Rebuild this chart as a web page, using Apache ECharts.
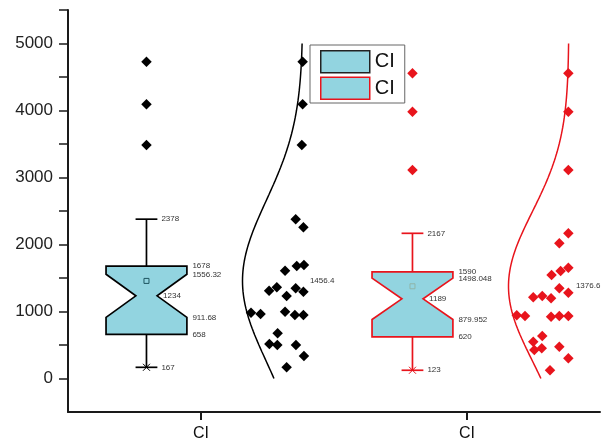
<!DOCTYPE html>
<html>
<head>
<meta charset="utf-8">
<script src="https://cdn.jsdelivr.net/npm/echarts@6/dist/echarts.min.js"></script>
<style>
  html, body { margin: 0; padding: 0; background: #fff; }
  #chart { width: 604px; height: 443px; }
</style>
</head>
<body>
<div id="chart"></div>
<script>
// ---- data ----
const categories = ['CI', 'CI'];
const yTickLabels = [0, 1000, 2000, 3000, 4000, 5000];

// box statistics: min, Q1, lower notch, median, upper notch, Q3, max (whisker ends)
const boxStatsA = [167, 658, 911.68, 1234, 1556.32, 1678, 2378];
const boxStatsB = [123, 620, 879.952, 1189, 1498.048, 1590, 2167];
const meanA = 1456.4;
const meanB = 1376.6;
const sdA = 1200;
const sdB = 1110;

// raw observations and their horizontal jitter within the dot column
const valuesA = [4728, 4093, 3485, 2378, 2257, 1694, 1679, 1609, 1346, 1296, 1361, 1310,
                 1231, 982, 963, 997, 948, 948, 675, 515, 500, 500, 336, 167];
const jitterA = [0.382, 0.382, 0.379, 0.356, 0.385, 0.387, 0.360, 0.316, 0.356, 0.385, 0.285, 0.256,
                 0.322, 0.188, 0.224, 0.316, 0.353, 0.385, 0.288, 0.257, 0.287, 0.357, 0.387, 0.322];
const valuesB = [4555, 3982, 3112, 2167, 2018, 1654, 1604, 1545, 1346, 1281, 1212, 1231, 1197,
                 943, 933, 922, 933, 933, 634, 549, 425, 451, 475, 301, 123];
const jitterB = [0.381, 0.381, 0.381, 0.381, 0.347, 0.381, 0.352, 0.318, 0.347, 0.381, 0.249, 0.283, 0.316,
                 0.187, 0.218, 0.316, 0.347, 0.381, 0.283, 0.249, 0.253, 0.281, 0.347, 0.381, 0.312];

// ---- layout / style ----
const FONT = 'Liberation Sans, Arial, sans-serif';
const FILL = '#92d4e0';
const BLACK = '#000000';
const RED = '#e8141c';
const BOX_OFFSET = -0.205;   // box column, relative to the category position
const BOX_HALF = 0.152;
const NOTCH_HALF = 0.04;
const CAP_HALF = 0.041;
const CURVE_BASE = 0.383;    // right edge of the distribution curve
const CURVE_AMP = 0.227;

function outliers(values, stats) {
  const iqr = stats[5] - stats[1];
  return values.filter(v => v > stats[5] + 1.5 * iqr || v < stats[1] - 1.5 * iqr);
}

function boxSeries(name, pos, stats, mean, color, meanStroke) {
  return {
    name: name,
    type: 'custom',
    z: 3,
    data: [[pos].concat(stats).concat([mean])],
    encode: { x: 0, y: [1, 2, 3, 4, 5, 6, 7] },
    itemStyle: { color: FILL, borderColor: color },
    renderItem: function (params, api) {
      const cx = api.value(0);
      const [mn, q1, nlo, med, nhi, q3, mx] = [1, 2, 3, 4, 5, 6, 7].map(i => api.value(i));
      const mv = api.value(8);
      const P = (x, y) => api.coord([x, y]);
      const L = cx - BOX_HALF, R = cx + BOX_HALF;
      const poly = [
        P(L, q3), P(R, q3), P(R, nhi), P(cx + NOTCH_HALF, med), P(R, nlo),
        P(R, q1), P(L, q1), P(L, nlo), P(cx - NOTCH_HALF, med), P(L, nhi)
      ];
      const line = (a, b, w) => ({
        type: 'line', shape: { x1: a[0], y1: a[1], x2: b[0], y2: b[1] },
        style: { stroke: color, lineWidth: w || 1.7 }
      });
      const txt = (x, y, s) => ({
        type: 'text', z2: 5,
        style: { text: s, x: x, y: y, fill: '#333', fontSize: 8, fontFamily: FONT,
                 align: 'left', verticalAlign: 'middle' }
      });
      const pMin = P(cx, mn), pMax = P(cx, mx);
      const capR = P(cx + CAP_HALF, mx)[0];
      const boxR = P(R, q3)[0];
      const notchR = P(cx + NOTCH_HALF, med)[0];
      const pm = P(cx, mv);
      const xs = 3.5;
      const children = [
        line(P(cx, q3), pMax), line(P(cx, q1), pMin),
        line(P(cx - CAP_HALF, mx), P(cx + CAP_HALF, mx)),
        line(P(cx - CAP_HALF, mn), P(cx + CAP_HALF, mn)),
        line([pMin[0] - xs, pMin[1] - xs], [pMin[0] + xs, pMin[1] + xs], 1),
        line([pMin[0] - xs, pMin[1] + xs], [pMin[0] + xs, pMin[1] - xs], 1),
        { type: 'polygon', shape: { points: poly },
          style: { fill: FILL, stroke: color, lineWidth: 1.7 } },
        { type: 'rect', shape: { x: pm[0] - 2.5, y: pm[1] - 2.5, width: 5, height: 5 },
          style: { fill: 'none', stroke: meanStroke, lineWidth: 1 } },
        txt(capR + 4, pMax[1], String(mx)),
        txt(boxR + 5.5, P(cx, q3)[1], String(q3)),
        txt(boxR + 5.5, P(cx, nhi)[1] + 1, String(nhi)),
        txt(notchR + 6, P(cx, med)[1], String(med)),
        txt(boxR + 5.5, P(cx, nlo)[1], String(nlo)),
        txt(boxR + 5.5, P(cx, q1)[1], String(q1)),
        txt(capR + 4, pMin[1], String(mn))
      ];
      // mean value printed beside the dot column
      const pb = P(pos - BOX_OFFSET + CURVE_BASE, mv);
      children.push(txt(pb[0] + 7, pb[1], String(mv)));
      return { type: 'group', children: children };
    }
  };
}

function curveData(pos, mean, sd) {
  const pts = [];
  for (let v = 0; v <= 5000; v += 25) {
    const z = (v - mean) / sd;
    pts.push([pos + CURVE_BASE - CURVE_AMP * Math.exp(-0.5 * z * z), v]);
  }
  return pts;
}

function dots(points, color) {
  return {
    type: 'scatter', symbol: 'diamond', symbolSize: 10.5, z: 4,
    itemStyle: { color: color, opacity: 1 },
    emphasis: { disabled: true },
    data: points
  };
}

const posA = 1, posB = 2;

const option = {
  animation: false,
  backgroundColor: '#ffffff',
  grid: { left: 68, right: 4, top: 10, bottom: 31, containLabel: false },
  legend: {
    orient: 'vertical',
    left: 310, top: 45,
    padding: [5, 10, 3, 10],
    itemWidth: 49, itemHeight: 22, itemGap: 3,
    borderColor: '#666', borderWidth: 1,
    textStyle: { fontSize: 20, fontFamily: FONT, color: '#111' },
    formatter: () => categories[0],
    selectedMode: false,
    data: [
      { name: 'CI-a', icon: 'rect', itemStyle: { color: FILL, borderColor: '#222', borderWidth: 1.5 } },
      { name: 'CI-b', icon: 'rect', itemStyle: { color: FILL, borderColor: RED, borderWidth: 1.5 } }
    ]
  },
  xAxis: {
    type: 'value', min: 0.5, max: 2.5,
    splitLine: { show: false },
    axisLine: { show: true, onZero: false, lineStyle: { color: '#1a1a1a', width: 2 } },
    axisTick: { show: true, length: 8, customValues: [posA, posB],
                lineStyle: { color: '#1a1a1a', width: 2 } },
    axisLabel: { customValues: [posA, posB], formatter: v => categories[Math.round(v) - 1],
                 fontSize: 16, fontFamily: FONT, color: '#111', margin: 14 }
  },
  yAxis: {
    type: 'value', min: -500, max: 5500, interval: 500,
    splitLine: { show: false },
    axisLine: { show: true, onZero: false, lineStyle: { color: '#1a1a1a', width: 2 } },
    axisTick: { show: true, length: 9, customValues: [0, 500, 1000, 1500, 2000, 2500, 3000, 3500, 4000, 4500, 5000, 5500],
                lineStyle: { color: '#1a1a1a', width: 1.5 } },
    axisLabel: { customValues: yTickLabels, formatter: v => String(v),
                 fontSize: 17, fontFamily: FONT, color: '#222', margin: 15 }
  },
  series: [
    boxSeries('CI-a', posA + BOX_OFFSET, boxStatsA, meanA, BLACK, '#1e5560'),
    boxSeries('CI-b', posB + BOX_OFFSET, boxStatsB, meanB, RED, '#8fb5a8'),
    dots(outliers(valuesA, boxStatsA).map(v => [posA + BOX_OFFSET, v]), BLACK),
    dots(outliers(valuesB, boxStatsB).map(v => [posB + BOX_OFFSET, v]), RED),
    dots(valuesA.map((v, i) => [posA + jitterA[i], v]), BLACK),
    dots(valuesB.map((v, i) => [posB + jitterB[i], v]), RED),
    {
      type: 'line', showSymbol: false, symbol: 'none', z: 2,
      lineStyle: { color: BLACK, width: 1.5 },
      data: curveData(posA, meanA, sdA)
    },
    {
      type: 'line', showSymbol: false, symbol: 'none', z: 2,
      lineStyle: { color: RED, width: 1.5 },
      data: curveData(posB, meanB, sdB)
    }
  ]
};

const chart = echarts.init(document.getElementById('chart'), null, { renderer: 'canvas' });
chart.setOption(option);
</script>
</body>
</html>
